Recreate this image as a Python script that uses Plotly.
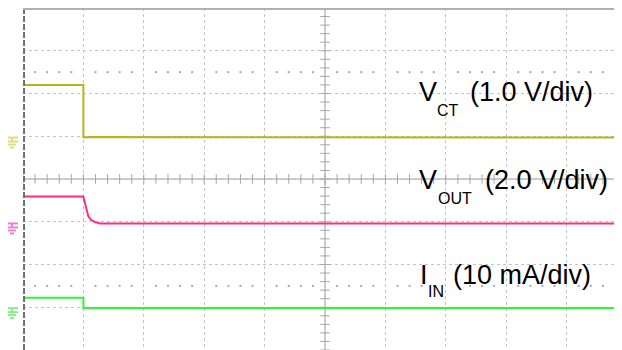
import numpy as np
import plotly.graph_objects as go

# Scope capture, all values in screen divisions (10 x 8 graticule)

t_vct = [0.0, 1.0, 1.0, 1.1, 9.92]
vct = [6.20, 6.20, 4.97, 4.98, 4.97]

t_vout = [0.0, 0.998, 1.026, 1.055, 1.081, 1.121, 1.192, 1.275, 9.92]
vout = [3.59, 3.59, 3.44, 3.25, 3.13, 3.05, 2.99, 2.96, 2.96]

t_iin = [0.0, 1.0, 1.0, 9.92]
iin = [1.22, 1.22, 0.98, 0.98]

# channel labels: name, subscript, scale
label_main = ["V", "V", "I"]
label_sub = ["CT", "OUT", "IN"]
label_scale = ["(1.0 V/div)", "(2.0 V/div)", "(10 mA/div)"]

ground_levels = [4.97, 2.96, 0.98]

colors = ["#b5b51c", "#ff2a8a", "#33f533"]
ground_colors = ["#dede80", "#e680dc", "#86ee86"]

XMAX = 9.917
YMAX = 8.0

# window pixel -> paper (plot area is 23..622 x 8..350 in the page)
def px(x):
    return (x - 23) / 599.0

def py(y):
    return 1 - (y - 8) / 342.0

fig = go.Figure()

# graticule ticks on centre axes and dotted marker rows
minor_x = np.arange(0, 10.01, 0.2)
minor_y = np.arange(0, 8.01, 0.2)

fig.add_trace(go.Scatter(x=minor_x, y=[4] * len(minor_x), mode='markers',
                         marker=dict(symbol='line-ns-open', size=7, color='#a8a8a8',
                                     line=dict(color='#a8a8a8', width=1)),
                         hoverinfo='skip', showlegend=False))
fig.add_trace(go.Scatter(x=[5] * len(minor_y), y=minor_y, mode='markers',
                         marker=dict(symbol='line-ew-open', size=7, color='#a8a8a8',
                                     line=dict(color='#a8a8a8', width=1)),
                         hoverinfo='skip', showlegend=False))

dots = [v for v in minor_x if abs(v - round(v)) > 0.05]
for yy in [6.5, 1.5]:
    fig.add_trace(go.Scatter(x=dots, y=[yy] * len(dots), mode='markers',
                             marker=dict(symbol='square', size=2, color='#a8a8a8'),
                             hoverinfo='skip', showlegend=False))

# centre axes
fig.add_shape(type='line', x0=5, x1=5, y0=0, y1=YMAX,
              line=dict(color='#cdcdcd', width=2), layer='below')
fig.add_shape(type='line', x0=0, x1=XMAX, y0=4, y1=4,
              line=dict(color='#cdcdcd', width=2), layer='below')

# borders
fig.add_shape(type='line', x0=0.017, x1=0.017, y0=0, y1=YMAX,
              line=dict(color='#6e6e6e', width=2, dash='6px,2px'))
fig.add_shape(type='line', x0=0, x1=XMAX, y0=YMAX - 0.024, y1=YMAX - 0.024,
              line=dict(color='#b0b0b0', width=2))

# waveforms
for t, v, c in [(t_vct, vct, colors[0]), (t_vout, vout, colors[1]), (t_iin, iin, colors[2])]:
    fig.add_trace(go.Scatter(x=t, y=v, mode='lines',
                             line=dict(color=c, width=2),
                             hoverinfo='skip', showlegend=False))

# ground markers in the left margin
for g, c in zip(ground_levels, ground_colors):
    dy = 1 / 42.75
    segs = [(6, 18, 0), (6, 18, 4), (8, 16, 7), (10, 14, 10)]
    for a, b, off in segs:
        fig.add_shape(type='line', xref='paper', yref='y',
                      x0=px(a), x1=px(b), y0=g - off * dy, y1=g - off * dy,
                      line=dict(color=c, width=2))
    fig.add_shape(type='line', xref='paper', yref='y',
                  x0=px(12), x1=px(12), y0=g, y1=g - 4 * dy,
                  line=dict(color=c, width=2))

# channel labels, placed piece by piece (pixel positions in the page)
main_x = [418, 418, 419]
main_y = [92, 180, 275]
sub_x = [436, 437, 427]
sub_y = [110, 198, 291]
scale_x = [469, 484, 452]

font_main = dict(family='Liberation Sans, Arial', size=27, color='black')
font_sub = dict(family='Liberation Sans, Arial', size=16, color='black')

for i in range(3):
    fig.add_annotation(x=px(main_x[i]), y=py(main_y[i]), xref='paper', yref='paper',
                       text=label_main[i], showarrow=False, xanchor='left',
                       yanchor='middle', font=font_main, borderpad=0)
    fig.add_annotation(x=px(sub_x[i]), y=py(sub_y[i]), xref='paper', yref='paper',
                       text=label_sub[i], showarrow=False, xanchor='left',
                       yanchor='middle', font=font_sub, borderpad=0)
    fig.add_annotation(x=px(scale_x[i]), y=py(main_y[i]), xref='paper', yref='paper',
                       text=label_scale[i], showarrow=False, xanchor='left',
                       yanchor='middle', font=font_main, borderpad=0)

fig.update_xaxes(range=[0, XMAX], dtick=1, tick0=0, showgrid=True,
                 gridcolor='#c4c4c4', griddash='dot', gridwidth=1,
                 showticklabels=False, zeroline=False, showline=False, fixedrange=True)
fig.update_yaxes(range=[0, YMAX], dtick=1, tick0=0, showgrid=True,
                 gridcolor='#c4c4c4', griddash='dot', gridwidth=1,
                 showticklabels=False, zeroline=False, showline=False, fixedrange=True)

fig.update_layout(width=614, height=342,
                  margin=dict(l=15, r=0, t=0, b=0),
                  plot_bgcolor='white', paper_bgcolor='white',
                  showlegend=False)

fig.write_html("out.html")
